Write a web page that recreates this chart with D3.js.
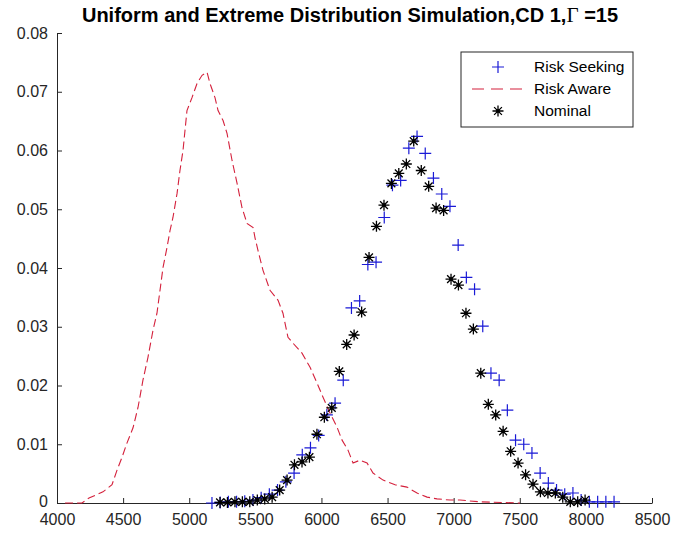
<!DOCTYPE html>
<html>
<head>
<meta charset="utf-8">
<script src="https://cdn.jsdelivr.net/npm/d3@7"></script>
<style>
  html, body { margin: 0; padding: 0; background: #ffffff; }
  svg { display: block; }
</style>
</head>
<body>
<div id="chart"></div>
<script>
// Axis ticks
const xTicks = [4000, 4500, 5000, 5500, 6000, 6500, 7000, 7500, 8000, 8500];
const yTicks = [0, 0.01, 0.02, 0.03, 0.04, 0.05, 0.06, 0.07, 0.08];

// Risk Seeking: histogram bin centres and normalised counts
const seekX = [5172, 5234, 5296, 5358, 5420, 5482, 5544, 5606, 5668, 5731,
               5793, 5855, 5917, 5979, 6041, 6103, 6165, 6227, 6289, 6351,
               6413, 6475, 6537, 6599, 6661, 6723, 6785, 6847, 6910, 6972,
               7034, 7096, 7158, 7220, 7282, 7344, 7406, 7468, 7530, 7592,
               7654, 7716, 7778, 7840, 7902, 7964, 8026, 8089, 8151, 8213];
const seekY = [0.0000, 0.0001, 0.0002, 0.0002, 0.0003, 0.0005, 0.0009, 0.0015, 0.0022, 0.0036,
               0.0051, 0.0082, 0.0094, 0.0115, 0.0150, 0.0170, 0.0209, 0.0332, 0.0344, 0.0406,
               0.0410, 0.0486, 0.0541, 0.0549, 0.0604, 0.0624, 0.0595, 0.0553, 0.0526, 0.0505,
               0.0439, 0.0384, 0.0364, 0.0301, 0.0221, 0.0209, 0.0158, 0.0107, 0.0100, 0.0085,
               0.0051, 0.0034, 0.0022, 0.0015, 0.0017, 0.0005, 0.0002, 0.0002, 0.0002, 0.0002];

// Risk Aware: density curve
const awareX = [4061, 4189, 4242, 4348, 4416, 4454, 4492, 4529, 4575, 4613,
                4650, 4688, 4726, 4756, 4779, 4802, 4832, 4855, 4877, 4908,
                4930, 4953, 4968, 4983, 5021, 5059, 5097, 5135, 5157, 5195,
                5218, 5256, 5286, 5324, 5362, 5399, 5437, 5483, 5498, 5520,
                5558, 5611, 5672, 5709, 5747, 5785, 5853, 5914, 5967, 6012,
                6065, 6118, 6156, 6201, 6239, 6292, 6345, 6390, 6466, 6557,
                6647, 6723, 6799, 6874, 6973, 7048, 7200, 7502];
const awareY = [0.0000, 0.0000, 0.00085, 0.0019, 0.0031, 0.0056, 0.0078, 0.0102, 0.0128, 0.0163,
                0.0209, 0.0248, 0.0294, 0.0323, 0.0362, 0.0401, 0.0435, 0.0464, 0.0486, 0.0527,
                0.0566, 0.0600, 0.0634, 0.0668, 0.0690, 0.0714, 0.0728, 0.0733, 0.0714, 0.0690,
                0.0668, 0.0651, 0.0629, 0.0583, 0.0544, 0.0503, 0.0476, 0.0469, 0.0451, 0.0430,
                0.0396, 0.0362, 0.0345, 0.0323, 0.0282, 0.0272, 0.0255, 0.0231, 0.0204, 0.0180,
                0.0153, 0.0129, 0.0107, 0.0090, 0.0068, 0.0073, 0.0068, 0.0051, 0.0039, 0.0031,
                0.0027, 0.0017, 0.0010, 0.0007, 0.0005, 0.0005, 0.0002, 0.0000];

// Nominal: histogram bin centres and normalised counts
const nomX = [5233, 5289, 5346, 5402, 5458, 5515, 5571, 5627, 5684, 5740,
              5796, 5853, 5909, 5966, 6022, 6078, 6135, 6191, 6247, 6304,
              6360, 6416, 6473, 6529, 6585, 6642, 6698, 6755, 6811, 6867,
              6924, 6980, 7036, 7093, 7149, 7205, 7262, 7318, 7374, 7431,
              7487, 7544, 7600, 7656, 7713, 7769, 7825, 7882, 7938, 7994];
const nomY = [0.0001, 0.0001, 0.0002, 0.0002, 0.0002, 0.0005, 0.0007, 0.0010, 0.0022, 0.0039,
              0.0065, 0.0070, 0.0078, 0.0117, 0.0146, 0.0162, 0.0224, 0.0270, 0.0286, 0.0325,
              0.0418, 0.0471, 0.0507, 0.0544, 0.0561, 0.0577, 0.0616, 0.0566, 0.0539, 0.0502,
              0.0498, 0.0381, 0.0371, 0.0323, 0.0296, 0.0221, 0.0168, 0.0150, 0.0122, 0.0088,
              0.0068, 0.0048, 0.0032, 0.0019, 0.0017, 0.0017, 0.0010, 0.0002, 0.0002, 0.0005];

const seriesNames = ["Risk Seeking", "Risk Aware", "Nominal"];
const titleMain = "Uniform and Extreme Distribution Simulation,CD 1,";
const titleGreek = "\u0393";
const titleTail = " =15";

const W = 675, H = 537;
const axisColor = "#262626";
const blue = "#1a1ad6";
const red = "#d4213c";
const sans = "'Liberation Sans', Arial, Helvetica, sans-serif";

const svg = d3.select("#chart").append("svg")
  .attr("width", W).attr("height", H)
  .attr("viewBox", `0 0 ${W} ${H}`);

const x = d3.scaleLinear().domain([4000, 8500]).range([57, 652]);
const y = d3.scaleLinear().domain([0, 0.08]).range([503, 33]);

// Axes (left and bottom only, ticks pointing inward)
const fmtY = d => d === 0 ? "0" : d3.format(".2f")(d);
const xAxis = d3.axisBottom(x).tickValues(xTicks).tickSizeInner(-5).tickSizeOuter(0).tickPadding(11).tickFormat(d3.format("d"));
const yAxis = d3.axisLeft(y).tickValues(yTicks).tickSizeInner(-5).tickSizeOuter(0).tickPadding(9).tickFormat(fmtY);

const gx = svg.append("g").attr("transform", `translate(0,${y(0)})`).call(xAxis);
const gy = svg.append("g").attr("transform", `translate(${x(4000)},0)`).call(yAxis);
[gx, gy].forEach(g => {
  g.select(".domain").attr("stroke", axisColor).attr("stroke-width", 1);
  g.selectAll(".tick line").attr("stroke", axisColor).attr("stroke-width", 1);
  g.selectAll(".tick text").attr("fill", axisColor)
    .style("font-family", sans).style("font-size", "16px");
});
// keep the zero label of the y axis clear of the x tick labels
gy.selectAll(".tick text").filter(d => d === 0).attr("dy", "0.2em");

// Title
const title = svg.append("text")
  .attr("x", 350).attr("y", 22)
  .attr("text-anchor", "middle")
  .style("font-family", sans)
  .style("font-size", "20px").style("font-weight", "bold").attr("fill", "#000");
title.append("tspan").text(titleMain);
title.append("tspan").text(titleGreek)
  .style("font-family", "'Liberation Serif', 'Times New Roman', serif").style("font-weight", "normal").style("font-size", "21px");
title.append("tspan").text(titleTail);

// Marker shapes
const plusPath = "M-6,0H6M0,-6V6";
const starPath = "M-5.5,0H5.5M0,-5.5V5.5M-3.9,-3.9L3.9,3.9M-3.9,3.9L3.9,-3.9";

// Risk Seeking (+)
svg.append("g").selectAll("path")
  .data(d3.zip(seekX, seekY)).join("path")
  .attr("transform", d => `translate(${x(d[0])},${y(d[1])})`)
  .attr("d", plusPath).attr("fill", "none").attr("stroke", blue).attr("stroke-width", 1.2);

// Risk Aware (dashed line)
const line = d3.line().x(d => x(d[0])).y(d => y(d[1]));
svg.append("path")
  .datum(d3.zip(awareX, awareY))
  .attr("d", line).attr("fill", "none").attr("stroke", red)
  .attr("stroke-width", 1.1).attr("stroke-dasharray", "8,4");

// Nominal (*)
const gNom = svg.append("g");
gNom.selectAll("path")
  .data(d3.zip(nomX, nomY)).join("path")
  .attr("transform", d => `translate(${x(d[0])},${y(d[1])})`)
  .attr("d", starPath).attr("fill", "none").attr("stroke", "#000").attr("stroke-width", 1.3);
gNom.selectAll("circle")
  .data(d3.zip(nomX, nomY)).join("circle")
  .attr("cx", d => x(d[0])).attr("cy", d => y(d[1])).attr("r", 1.8).attr("fill", "#000");

// Legend
const lg = svg.append("g");
lg.append("rect").attr("x", 461).attr("y", 52).attr("width", 172).attr("height", 75)
  .attr("fill", "#fff").attr("stroke", axisColor).attr("stroke-width", 1);
const rowsY = [67, 89, 111];
lg.append("path").attr("transform", `translate(498,${rowsY[0]})`).attr("d", plusPath)
  .attr("fill", "none").attr("stroke", blue).attr("stroke-width", 1.2);
lg.append("line").attr("x1", 472).attr("x2", 526).attr("y1", rowsY[1]).attr("y2", rowsY[1])
  .attr("stroke", red).attr("stroke-width", 1.1).attr("stroke-dasharray", "12,7");
lg.append("path").attr("transform", `translate(498,${rowsY[2]})`).attr("d", starPath)
  .attr("fill", "none").attr("stroke", "#000").attr("stroke-width", 1.3);
lg.append("circle").attr("cx", 498).attr("cy", rowsY[2]).attr("r", 1.8).attr("fill", "#000");
lg.selectAll("text.lab").data(seriesNames).join("text").attr("class", "lab")
  .attr("x", 534).attr("y", (d, i) => rowsY[i]).attr("dy", "0.35em")
  .style("font-family", sans).style("font-size", "15.5px")
  .attr("fill", "#000").text(d => d);
</script>
</body>
</html>
